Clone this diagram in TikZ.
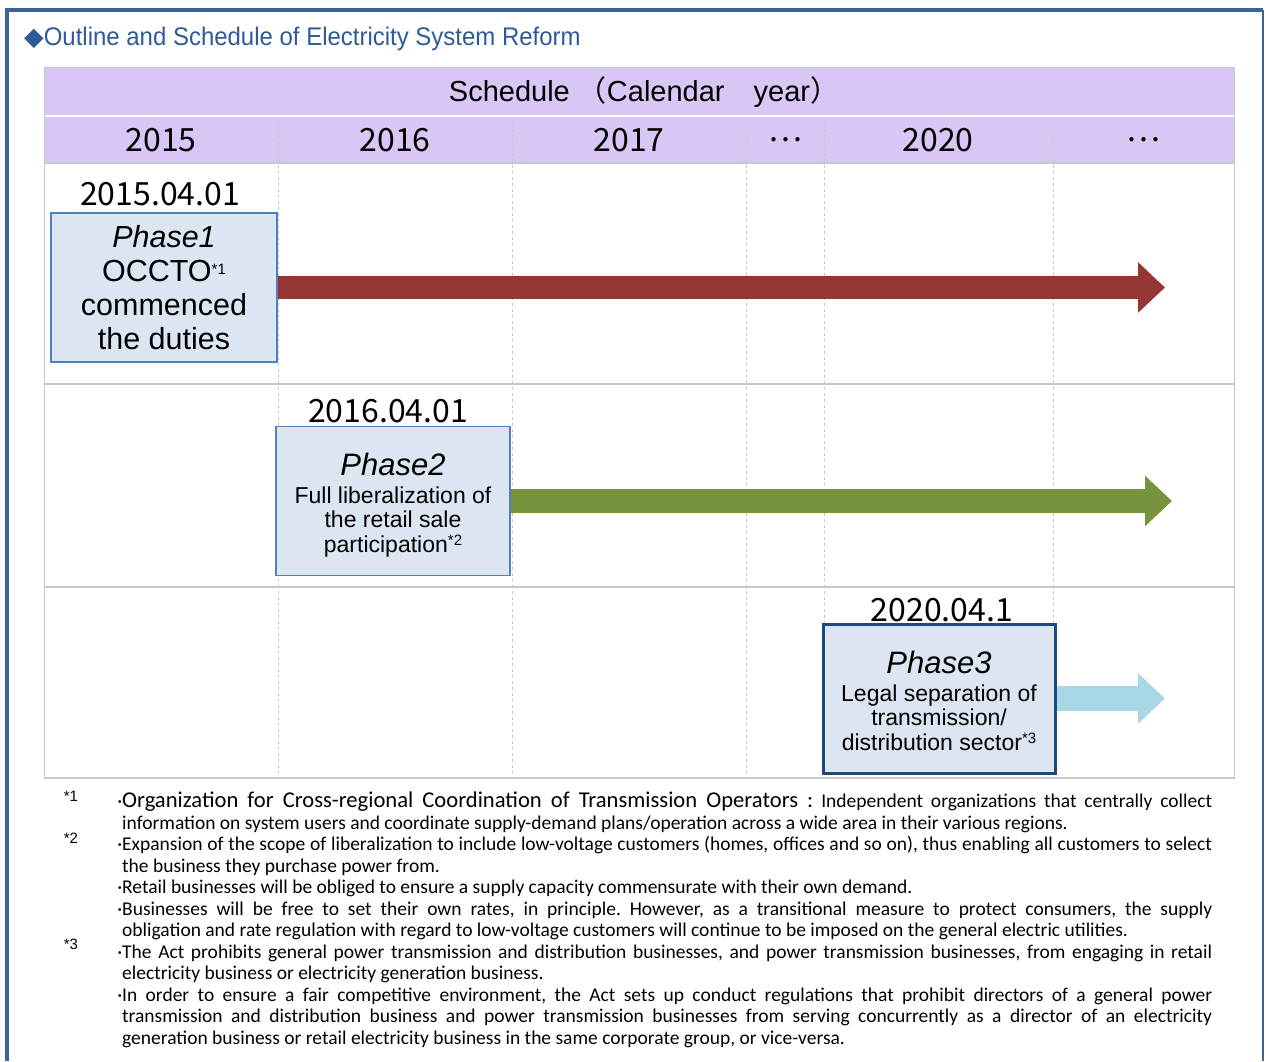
\documentclass[tikz,border=0pt]{standalone}
\usepackage{fontspec}
\setmainfont{Liberation Sans}
\newfontfamily\jpfont{Noto Sans CJK JP}
\newfontfamily\notefont{Carlito}
\newfontfamily\symfont{DejaVu Sans}
\newfontfamily\titlefont[FakeStretch=0.94]{Liberation Sans}
\usepackage{xcolor}
\usetikzlibrary{positioning,arrows.meta}

\definecolor{frameblue}{RGB}{60,100,150}
\definecolor{titleblue}{RGB}{46,90,152}
\definecolor{headpurple}{RGB}{216,198,244}
\definecolor{boxfill}{RGB}{220,230,242}
\definecolor{boxline}{RGB}{79,129,189}
\definecolor{boxdark}{RGB}{31,73,125}
\definecolor{gridgray}{RGB}{200,200,200}
\definecolor{arrowred}{RGB}{148,54,52}
\definecolor{arrowgreen}{RGB}{119,147,60}
\definecolor{arrowcyan}{RGB}{168,216,230}

\newcommand{\fnmark}[1]{\raisebox{7pt}{\fontsize{15}{15}\selectfont *#1}}
\newcommand{\notedot}{\noindent\llap{·}}
\frenchspacing

\tikzset{
  phasebox/.style={draw=boxline, line width=1.3pt, fill=boxfill, inner sep=0pt,
    align=center, minimum width=#1, minimum height=149pt},
  datelabel/.style={font=\jpfont\fontsize{32}{32}\selectfont, inner sep=0pt},
  yearlabel/.style={font=\jpfont\fontsize{32}{32}\selectfont, inner sep=0pt},
  timeline/.style={line width=24pt, -{Triangle[length=27pt 0,width=49pt 0]}},
  gridline/.style={draw=gridgray, line width=1pt},
  notemark/.style={font=\fontsize{15}{15}\selectfont, inner sep=0pt},
}

\begin{document}
\begin{tikzpicture}[x=1pt,y=-1pt]
    \useasboundingbox (0,0) rectangle (1266,1061);
    % Frame and title
    \draw[frameblue, line width=3.5pt] (7,1061) -- (7,10) -- (1263,10);
    \draw[frameblue, line width=2pt] (1263,10) -- (1263,1061);
    \node[anchor=west, inner sep=0pt, text=titleblue, font=\titlefont\fontsize{25.5}{25.5}\selectfont] (title) at (24,39)
        {{\symfont ◆}Outline and Schedule of Electricity System Reform};

    % Header rows
    \fill[headpurple] (44,67) rectangle (1234,115);
    \fill[headpurple] (44,117) rectangle (1234,163);
    \draw[gridline] (44,67) rectangle (1234,778);
    \draw[gridline, line width=1.5pt] (44,163) -- (1234,163);
    \draw[gridline, line width=1.5pt] (44,384) -- (1234,384); % row 1
    \draw[gridline, line width=1.5pt] (44,587) -- (1234,587); % row 2
    \draw[gridline, line width=1.5pt] (44,778) -- (1234,778); % row 3
    \draw[gridline, dashed] (278,117) -- (278,778);
    \draw[gridline, dashed] (512,117) -- (512,778);
    \draw[gridline, dashed] (746,117) -- (746,778);
    \draw[gridline, dashed] (824,117) -- (824,778);
    \draw[gridline, dashed] (1053,117) -- (1053,778);

    \node[inner sep=0pt, font=\fontsize{29}{29}\selectfont] (sched) at (644,92)
        {Schedule {\jpfont （}Calendar{\jpfont 　}year{\jpfont ）}};
    \node[yearlabel] (y15) at (161,140) {2015};
    \node[yearlabel] (y16) at (395,140) {2016};
    \node[yearlabel] (y17) at (629,140) {2017};
    \node[yearlabel] (yd1) at (785,140) {…};
    \node[yearlabel] (y20) at (938,140) {2020};
    \node[yearlabel] (yd2) at (1143,140) {…};

    % Phase 1
    \node[datelabel] (d1) at (160,194) {2015.04.01};
    \node[phasebox=226pt, font=\fontsize{30.5}{34}\selectfont] (p1) at (164,287.5)
        {{\itshape Phase1}\\OCCTO\fnmark{1}\\commenced\\the duties};
    \coordinate (tip1) at (1165,287.5);
    \draw[timeline, arrowred, line width=23pt] (p1.east) -- (p1.east -| tip1);

    % Phase 2
    \node[datelabel] (d2) at (388,411) {2016.04.01};
    \node[phasebox=234pt, font=\fontsize{23}{24.5}\selectfont] (p2) at (393,501)
        {\rule{0pt}{31pt}{\fontsize{31}{31}\selectfont\itshape Phase2}\\[3pt]Full liberalization of\\the retail sale\\participation\fnmark{2}};
    \coordinate (tip2) at (1172,501);
    \draw[timeline, arrowgreen] (p2.east) -- (p2.east -| tip2);

    % Phase 3
    \node[datelabel] (d3) at (942,610) {2020.04.1};
    \node[phasebox=232pt, draw=boxdark, line width=3pt, font=\fontsize{23}{24.5}\selectfont] (p3) at (939,698.5)
        {\rule{0pt}{27pt}{\fontsize{31}{31}\selectfont\itshape Phase3}\\[3pt]Legal separation of\\transmission/\\distribution sector\fnmark{3}};
    \coordinate (tip3) at (1165,700);
    \draw[timeline, arrowcyan, line width=25pt] (p3.east) -- (p3.east -| tip3);

    % Notes
    \node[notemark] (m1) at (71,796) {*1};
    \node[notemark] (m2) at (71,838) {*2};
    \node[notemark] (m3) at (71,944) {*3};
    \node[anchor=north west, inner sep=0pt, text width=1090pt, align=justify,
          font=\notefont\fontsize{19.5}{21.5}\selectfont] (notes) at (122,792)
        {\notedot{\fontsize{22.6}{21.5}\selectfont Organization for Cross-regional Coordination of Transmission Operators :} Independent organizations that centrally collect\linebreak information on system users and coordinate supply-demand plans/operation across a wide area in their various regions.\par
         \notedot Expansion of the scope of liberalization to include low-voltage customers (homes, offices and so on), thus enabling all customers to select\linebreak the business they purchase power from.\par
         \notedot Retail businesses will be obliged to ensure a supply capacity commensurate with their own demand.\par
         \notedot Businesses will be free to set their own rates, in principle. However, as a transitional measure to protect consumers, the supply\linebreak obligation and rate regulation with regard to low-voltage customers will continue to be imposed on the general electric utilities.\par
         \notedot The Act prohibits general power transmission and distribution businesses, and power transmission businesses, from engaging in retail\linebreak electricity business or electricity generation business.\par
         \notedot In order to ensure a fair competitive environment, the Act sets up conduct regulations that prohibit directors of a general power\linebreak transmission and distribution business and power transmission businesses from serving concurrently as a director of an electricity\linebreak generation business or retail electricity business in the same corporate group, or vice-versa.};
\end{tikzpicture}
\end{document}
